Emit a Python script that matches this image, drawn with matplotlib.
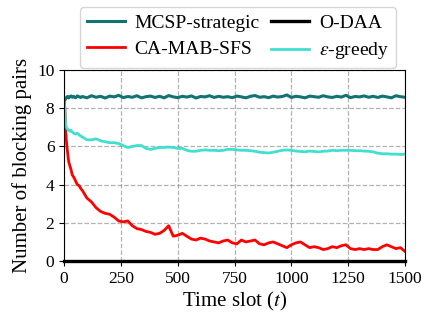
import numpy as np
import matplotlib
matplotlib.use('Agg')
import matplotlib.pyplot as plt

plt.rcParams['font.family'] = ['Liberation Serif', 'DejaVu Serif']
plt.rcParams['mathtext.fontset'] = 'stix'

# time slots (dense at the start, every 20 after that)
t_early = [0, 3, 6, 9, 12, 16, 20, 25, 30, 36, 42, 50, 58, 66, 73]
t = t_early + list(range(80, 1500, 20)) + [1500]

mcsp = [8.30, 8.45, 8.50, 8.55, 8.60, 8.62, 8.55, 8.60, 8.65, 8.58, 8.62, 8.55, 8.65, 8.60, 8.57,
        8.62, 8.55, 8.66, 8.58, 8.63, 8.54, 8.64, 8.60, 8.68, 8.56, 8.62, 8.58, 8.66, 8.55, 8.61,
        8.64, 8.57, 8.63, 8.55, 8.67, 8.60, 8.56, 8.63, 8.59, 8.65, 8.54, 8.62, 8.60, 8.66, 8.57,
        8.63, 8.58, 8.61, 8.56, 8.64, 8.60, 8.55, 8.63, 8.67, 8.58, 8.61, 8.56, 8.64, 8.59, 8.62,
        8.70, 8.57, 8.63, 8.60, 8.55, 8.64, 8.61, 8.58, 8.66, 8.60, 8.57, 8.63, 8.59, 8.68, 8.56,
        8.62, 8.60, 8.65, 8.58, 8.63, 8.57, 8.64, 8.60, 8.55, 8.66, 8.61, 8.58]

ca_mab = [8.30, 8.00, 7.00, 6.40, 6.00, 5.60, 5.20, 5.00, 4.80, 4.50, 4.40, 4.20, 4.00, 3.95, 3.80,
          3.70, 3.30, 3.10, 2.80, 2.60, 2.50, 2.45, 2.30, 2.10, 2.05, 2.10, 1.85, 1.70, 1.65, 1.55,
          1.50, 1.40, 1.45, 1.60, 1.85, 1.30, 1.35, 1.45, 1.30, 1.15, 1.10, 1.20, 1.15, 1.05, 1.00,
          0.95, 1.05, 1.10, 0.95, 0.90, 1.10, 1.00, 1.05, 1.10, 0.90, 0.85, 0.95, 1.00, 0.90, 0.80,
          0.70, 0.85, 0.95, 1.00, 0.85, 0.70, 0.75, 0.70, 0.60, 0.65, 0.75, 0.70, 0.80, 0.85, 0.65,
          0.60, 0.65, 0.60, 0.65, 0.60, 0.60, 0.75, 0.85, 0.75, 0.65, 0.70, 0.50]

eps_greedy = [8.30, 7.80, 7.30, 7.00, 6.95, 6.90, 6.85, 6.80, 6.85, 6.75, 6.70, 6.65, 6.70, 6.60, 6.55,
              6.50, 6.35, 6.35, 6.40, 6.30, 6.25, 6.20, 6.20, 6.15, 6.05, 5.95, 6.00, 6.05, 6.05, 5.90,
              5.85, 5.90, 5.95, 5.95, 5.97, 5.95, 5.90, 5.90, 5.80, 5.75, 5.75, 5.80, 5.82, 5.80, 5.80,
              5.78, 5.80, 5.85, 5.85, 5.82, 5.80, 5.80, 5.78, 5.75, 5.70, 5.68, 5.66, 5.70, 5.75, 5.80,
              5.82, 5.80, 5.76, 5.74, 5.72, 5.76, 5.74, 5.72, 5.75, 5.76, 5.80, 5.78, 5.80, 5.80, 5.80,
              5.78, 5.78, 5.76, 5.75, 5.72, 5.65, 5.62, 5.62, 5.60, 5.60, 5.58, 5.60]

odaa_t = [0, 1500]
odaa = [0, 0]

fig, ax = plt.subplots(figsize=(4.25, 3.16), dpi=100)
fig.subplots_adjust(left=0.151, right=0.953, bottom=0.174, top=0.778)

l1, = ax.plot(t, mcsp, color='#127373', lw=2.2, label='MCSP-strategic')
l2, = ax.plot(t, ca_mab, color='red', lw=2.0, label='CA-MAB-SFS')
l4, = ax.plot(t, eps_greedy, color='#40e0d0', lw=2.0, label=r'$\varepsilon$-greedy')
l3, = ax.plot(odaa_t, odaa, color='black', lw=2.4, label='O-DAA', clip_on=False, zorder=5)

ax.set_xlim(0, 1500)
ax.set_ylim(0, 10)
ax.set_xticks([0, 250, 500, 750, 1000, 1250, 1500])
ax.set_yticks([0, 2, 4, 6, 8, 10])
ax.tick_params(labelsize=12.5)
ax.grid(True, linestyle='--', color='gray', alpha=0.6, lw=0.9)
ax.set_xlabel(r'Time slot ($t$)', fontsize=15, labelpad=2)
ax.set_ylabel('Number of blocking pairs', fontsize=15, labelpad=4)

ax.legend(handles=[l1, l2, l3, l4], loc='lower center', bbox_to_anchor=(0.51, 1.01),
          ncol=2, fontsize=14, handlelength=1.95, columnspacing=0.6,
          handletextpad=0.5, borderpad=0.35, labelspacing=0.45, borderaxespad=0.0)

fig.savefig('out.png', dpi=100)
